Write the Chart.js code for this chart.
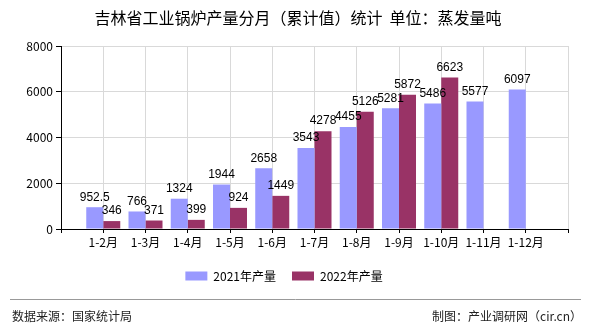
<!DOCTYPE html>
<html>
<head>
<meta charset="utf-8">
<script src="https://cdn.jsdelivr.net/npm/chart.js@4"></script>
<style>
  html, body { margin: 0; padding: 0; background: #fff; }
  #wrap { width: 590px; height: 330px; }
</style>
</head>
<body>
<div id="wrap"><canvas id="chart" width="590" height="330"></canvas></div>
<script>
const categories = ["1-2月", "1-3月", "1-4月", "1-5月", "1-6月", "1-7月", "1-8月", "1-9月", "1-10月", "1-11月", "1-12月"];
const output2021 = [952.5, 766, 1324, 1944, 2658, 3543, 4455, 5281, 5486, 5577, 6097];
const output2022 = [346, 371, 399, 924, 1449, 4278, 5126, 5872, 6623, null, null];
const yTicks = [0, 2000, 4000, 6000, 8000];

const FONT = '"Noto Sans CJK SC", "Noto Sans", sans-serif';

// empty slot on each side, like the original axis
const labels = ["", ...categories, ""];
const pad = arr => [null, ...arr, null];

// title + footer drawn by hand
const frame = {
  id: "frame",
  afterDraw(chart) {
    const ctx = chart.ctx;
    ctx.save();
    ctx.fillStyle = "#000";
    ctx.font = "16px " + FONT;
    ctx.textAlign = "center";
    ctx.textBaseline = "middle";
    ctx.fillText("吉林省工业锅炉产量分月（累计值）统计  单位：蒸发量吨", 298, 18);

    ctx.strokeStyle = "#999";
    ctx.lineWidth = 1;
    ctx.beginPath();
    ctx.moveTo(10, 299.5);
    ctx.lineTo(581, 299.5);
    ctx.stroke();

    ctx.fillStyle = "#222";
    ctx.font = "12px " + FONT;
    ctx.textAlign = "left";
    ctx.fillText("数据来源：国家统计局", 12, 316);
    ctx.textAlign = "right";
    ctx.fillText("制图：产业调研网（cir.cn）", 582, 316);
    ctx.restore();
  }
};

// value labels above every bar, drawn on top of all bars
const valueLabels = {
  id: "valueLabels",
  afterDatasetsDraw(chart) {
    const ctx = chart.ctx;
    ctx.save();
    ctx.fillStyle = "#000";
    ctx.font = '12px "Liberation Sans", sans-serif';
    ctx.textAlign = "center";
    ctx.textBaseline = "bottom";
    chart.data.datasets.forEach((ds, idx) => {
      chart.getDatasetMeta(idx).data.forEach((bar, i) => {
        if (ds.data[i] == null) return;
        ctx.fillText(String(ds.data[i]), bar.x, bar.y - 4);
      });
    });
    ctx.restore();
  }
};

new Chart(document.getElementById("chart"), {
  type: "bar",
  data: {
    labels: labels,
    datasets: [
      { label: "2021年产量", data: pad(output2021), backgroundColor: "#9999ff" },
      { label: "2022年产量", data: pad(output2022), backgroundColor: "#993366" }
    ]
  },
  options: {
    responsive: false,
    animation: false,
    events: [],
    layout: { padding: { top: 46, right: 22, left: 0, bottom: 38 } },
    datasets: { bar: { categoryPercentage: 0.805, barPercentage: 1.0 } },
    scales: {
      x: {
        offset: false,
        grid: { offset: false, color: "#d9d9d9", tickColor: "#000", tickLength: 4 },
        border: { color: "#000" },
        ticks: { color: "#000", font: { family: FONT, size: 12 }, padding: 2, autoSkip: false, maxRotation: 0 },
        afterFit: s => { s.height = 25; }
      },
      y: {
        min: 0,
        max: 8000,
        afterBuildTicks: s => { s.ticks = yTicks.map(v => ({ value: v })); },
        grid: { color: "#d9d9d9", tickColor: "#000", tickLength: 5 },
        border: { color: "#000" },
        ticks: { color: "#000", font: { family: FONT, size: 12 }, padding: 3, callback: v => String(v) },
        afterFit: s => { s.width = 61; }
      }
    },
    plugins: {
      legend: {
        position: "bottom",
        labels: {
          color: "#000",
          font: { family: FONT, size: 12 },
          boxWidth: 22,
          boxHeight: 9,
          padding: 16
        }
      },
      tooltip: { enabled: false }
    }
  },
  plugins: [frame, valueLabels]
});
</script>
</body>
</html>
